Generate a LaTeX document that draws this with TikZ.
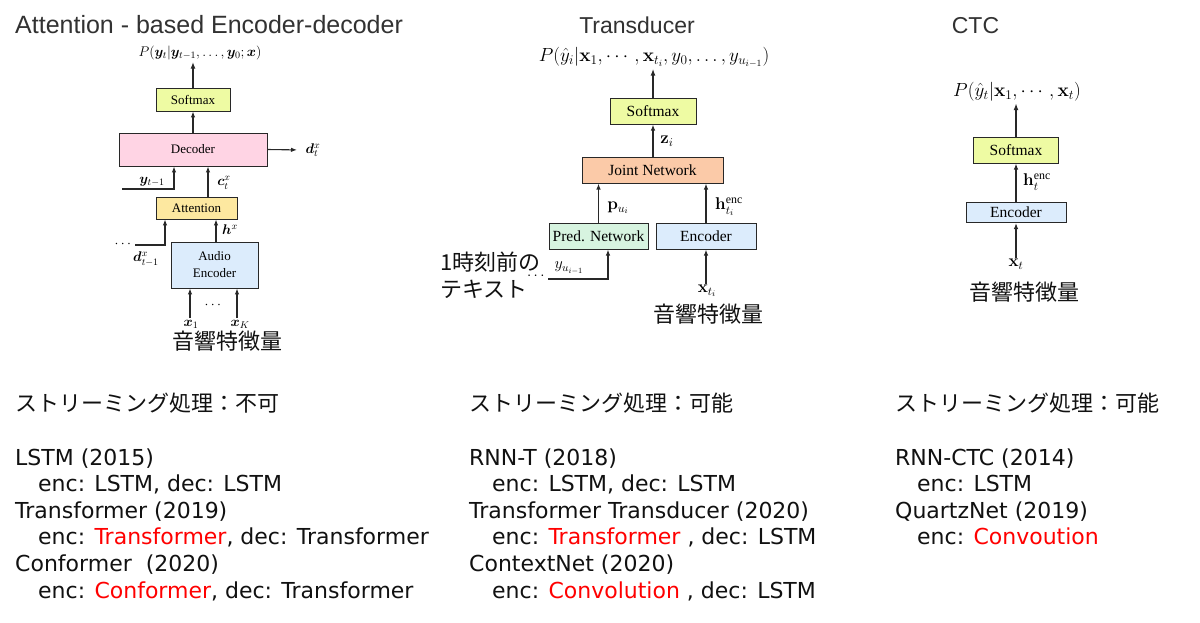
\RequirePackage{fix-cm}
\documentclass[tikz,border=0pt]{standalone}
\usepackage{amsmath}
\usepackage{bm}
\usepackage[no-math]{fontspec}
\setmainfont{Liberation Serif}
\newfontfamily\titlefont{Liberation Sans}
\newfontfamily\jpfont{Noto Sans CJK JP}
\newfontfamily\bodyfont{DejaVu Sans}
\usetikzlibrary{arrows.meta,calc}
\definecolor{csoft}{RGB}{238,251,163}
\definecolor{cdec}{RGB}{255,212,228}
\definecolor{catt}{RGB}{253,232,160}
\definecolor{cenc}{RGB}{220,236,252}
\definecolor{cjoint}{RGB}{251,202,168}
\definecolor{cpred}{RGB}{215,244,224}
\definecolor{boxline}{RGB}{40,40,40}
\definecolor{titlegray}{RGB}{50,50,50}
\definecolor{txt}{RGB}{17,17,17}
\definecolor{hl}{RGB}{255,0,0}
\tikzset{
  lbox/.style={draw=boxline, line width=0.9pt, inner sep=0pt, font=\fontsize{13}{17}\selectfont, align=center},
  mbox/.style={draw=boxline, line width=1pt, inner sep=0pt, font=\fontsize{15.5}{18}\selectfont},
  lmath/.style={inner sep=1.5pt, font=\fontsize{14}{16}\selectfont},
  mmath/.style={inner sep=1.5pt, font=\fontsize{19}{21}\selectfont},
  mlab/.style={inner sep=1pt, font=\fontsize{17}{19}\selectfont},
  arr/.style={-{Latex[length=6pt,width=4.5pt]}, line width=1.1pt, draw=boxline},
  arrT/.style={-{Latex[length=7pt,width=5pt]}, line width=1.7pt, draw=boxline},
  ttl/.style={inner sep=0pt, anchor=base west, text=titlegray, font=\titlefont\fontsize{25}{28}\selectfont},
  ttlc/.style={inner sep=0pt, anchor=base, text=titlegray, font=\titlefont\fontsize{23}{26}\selectfont},
  jp/.style={inner sep=0pt, text=txt, font=\jpfont\fontsize{22}{26}\selectfont},
  body/.style={inner sep=0pt, anchor=base west, text=txt, font=\bodyfont\fontsize{22}{26}\selectfont},
}
\begin{document}
\begin{tikzpicture}[x=1pt,y=-1pt]
\useasboundingbox[fill=white] (0,0) rectangle (1200,622);

% titles
\node[ttl] (t1) at (15,33) {Attention - based Encoder-decoder};
\node[ttlc] (t2) at (637,33) {Transducer};
\node[ttlc] (t3) at (975.5,33) {CTC};

% ---------- left: attention encoder-decoder ----------
\node[lmath] (lP) at (200,53) {$P(\bm{y}_t|\bm{y}_{t-1},\ldots,\bm{y}_0;\bm{x})$};
\node[lbox, fill=csoft, minimum width=74, minimum height=23] (lsm) at (193,99.5) {Softmax};
\node[lbox, fill=cdec, minimum width=148, minimum height=33] (ldec) at (193,149.5) {Decoder};
\node[lbox, fill=catt, minimum width=81, minimum height=22] (latt) at (196.5,208) {Attention};
\node[lbox, fill=cenc, minimum width=87, minimum height=46] (lenc) at (214.5,265) {Audio\\Encoder};
\node[lmath, anchor=west] (ldout) at (304,150) {$\bm{d}_t^x$};
\node[lmath] (lylab) at (152,182) {$\bm{y}_{t-1}$};
\node[lmath] (lclab) at (224,183) {$\bm{c}_t^x$};
\node[lmath] (lhlab) at (230,230) {$\bm{h}^x$};
\node[lmath] (ldlab) at (146,259) {$\bm{d}_{t-1}^x$};
\node[lmath] (ldots) at (124,244) {$\cdots$};
\node[lmath] (lmid) at (214,305) {$\cdots$};
\node[lmath] (lx1) at (191,324) {$\bm{x}_1$};
\node[lmath] (lxk) at (240,324) {$\bm{x}_K$};
\node[jp] (ljp) at (227,341) {音響特徴量};
\coordinate (lcx) at (208,0);
\coordinate (lyx) at (174,0);
\coordinate (ly0) at (122,189);
\coordinate (lhx) at (216,0);
\coordinate (ldx) at (165,0);
\coordinate (l1x) at (190,0);
\coordinate (lkx) at (237,0);
\draw[arrT] (lsm.north) -- (lsm.north |- lP.south);
\draw[arr] (ldec.north) -- (lsm.south);
\draw[arr, shorten >=7pt] (ldec.east) -- (ldout.west);
\draw[arr] (latt.north -| lcx) -- (ldec.south -| lcx);
\draw[arr] (ly0) -| (ldec.south -| lyx);
\draw[arr] (lenc.north -| lhx) -- (latt.south -| lhx);
\draw[arr] (ldots.east |- 0,245) -| (latt.south -| ldx);
\draw[arr] (lx1.north -| l1x) -- (lenc.south -| l1x);
\draw[arr] (lxk.north -| lkx) -- (lenc.south -| lkx);

% ---------- middle: transducer ----------
\node[mmath] (mP) at (654,57) {$P(\hat{y}_i|\mathbf{x}_1,\cdots,\mathbf{x}_{t_i},y_0,\ldots,y_{u_{i-1}})$};
\node[mbox, fill=csoft, minimum width=86, minimum height=26] (msm) at (653,111) {Softmax};
\node[mbox, fill=cjoint, minimum width=141, minimum height=26] (mjn) at (652.5,170) {Joint Network};
\node[mbox, fill=cpred, minimum width=99, minimum height=26] (mpred) at (598.5,236) {Pred. Network};
\node[mbox, fill=cenc, minimum width=100, minimum height=26] (menc) at (706,236) {Encoder};
\node[mlab] (mz) at (667,141) {$\mathbf{z}_i$};
\node[mlab] (mp) at (618,208) {$\mathbf{p}_{u_i}$};
\node[mlab] (mh) at (729,207) {$\mathbf{h}_{t_i}^{\text{enc}}$};
\node[mlab, font=\fontsize{16}{18}\selectfont] (my) at (569,268) {$y_{u_{i-1}}$};
\node[mlab, font=\fontsize{15}{17}\selectfont] (mdots) at (537,276) {$\cdots$};
\node[mlab] (mxt) at (707,291) {$\mathbf{x}_{t_i}$};
\node[jp, anchor=west] (mjp1) at (440,262.5) {1時刻前の};
\node[jp, anchor=west] (mjp2) at (440,289) {テキスト};
\node[jp] (mjp3) at (708,314) {音響特徴量};
\coordinate (mpx) at (608,0);
\draw[arrT] (msm.north) -- (msm.north |- mP.south);
\draw[arr] (mjn.north -| msm.south) -- (msm.south);
\draw[arr] (mpred.north) -- (mpred.north |- mjn.south);
\draw[arr] (menc.north) -- (menc.north |- mjn.south);
\draw[arr] (mdots.east |- 0,279) -| (mpred.south -| mpx);
\draw[arr] (mxt.north -| menc.south) -- (menc.south);

% ---------- right: CTC ----------
\node[mmath] (rP) at (1017,92) {$P(\hat{y}_t|\mathbf{x}_1,\cdots,\mathbf{x}_t)$};
\node[mbox, fill=csoft, minimum width=85, minimum height=26] (rsm) at (1016,150) {Softmax};
\node[mbox, fill=cenc, minimum width=100, minimum height=20] (renc) at (1016,212.5) {Encoder};
\node[mlab] (rh) at (1037,182) {$\mathbf{h}_t^{\text{enc}}$};
\node[mlab] (rxt) at (1016,264) {$\mathbf{x}_t$};
\node[jp] (rjp) at (1024,292) {音響特徴量};
\draw[arrT] (rsm.north) -- (rsm.north |- rP.south);
\draw[arr] (renc.north) -- (rsm.south);
\draw[arr] (rxt.north) -- (renc.south);

% ---------- bottom texts ----------
\node[jp, anchor=base west] (lst) at (15,411) {ストリーミング処理：不可};
\node[body] (l1) at (15,465) {LSTM (2015)};
\node[body] (l2) at (38,491.6) {enc: LSTM, dec: LSTM};
\node[body] (l3) at (15,518.2) {Transformer (2019)};
\node[body] (l4) at (38,544.8) {enc: \textcolor{hl}{Transformer}, dec: Transformer};
\node[body] (l5) at (15,571.4) {Conformer\ \ (2020)};
\node[body] (l6) at (38,598) {enc: \textcolor{hl}{Conformer}, dec: Transformer};

\node[jp, anchor=base west] (mst) at (469,411) {ストリーミング処理：可能};
\node[body] (m1) at (469,465) {RNN-T (2018)};
\node[body] (m2) at (492,491.6) {enc: LSTM, dec: LSTM};
\node[body] (m3) at (469,518.2) {Transformer Transducer (2020)};
\node[body] (m4) at (492,544.8) {enc: \textcolor{hl}{Transformer} , dec: LSTM};
\node[body] (m5) at (469,571.4) {ContextNet (2020)};
\node[body] (m6) at (492,598) {enc: \textcolor{hl}{Convolution} , dec: LSTM};

\node[jp, anchor=base west] (rst) at (895,411) {ストリーミング処理：可能};
\node[body] (r1) at (895,465) {RNN-CTC (2014)};
\node[body] (r2) at (917,491.6) {enc: LSTM};
\node[body] (r3) at (895,518.2) {QuartzNet (2019)};
\node[body] (r4) at (917,544.8) {enc: \textcolor{hl}{Convoution}};
\end{tikzpicture}
\end{document}
